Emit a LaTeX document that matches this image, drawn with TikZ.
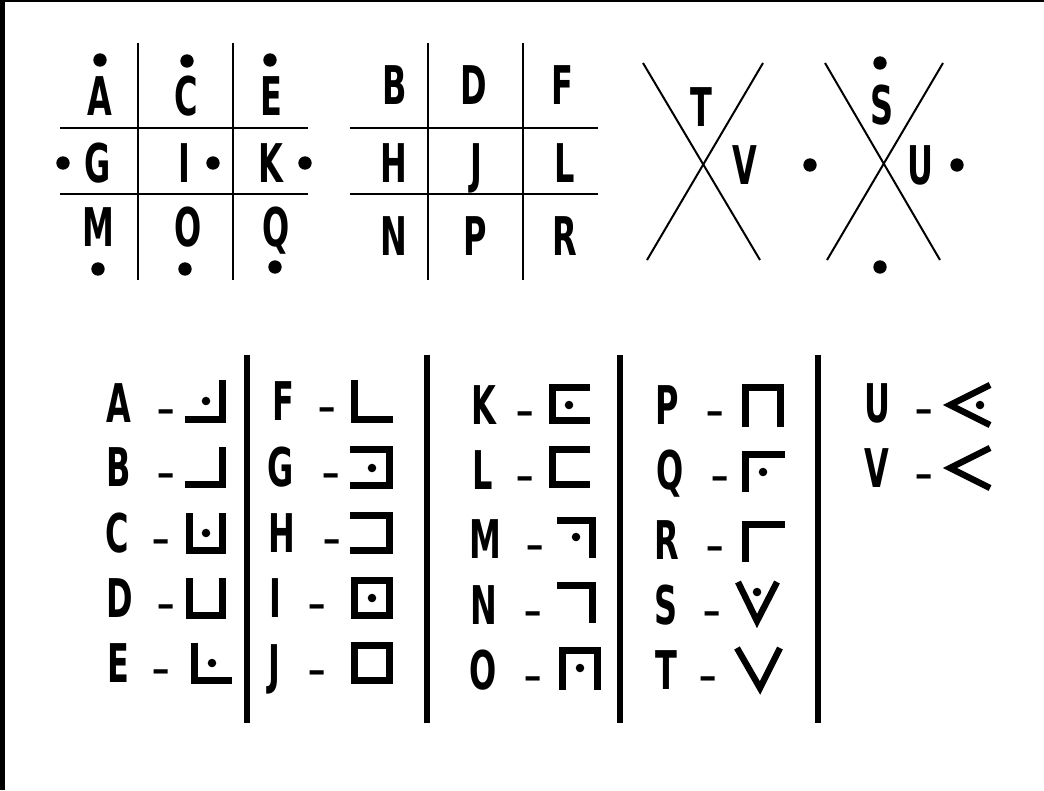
\documentclass[tikz,border=0pt]{standalone}
\usepackage{fontspec}
\newfontfamily\pixfont{DejaVu Sans}[FakeStretch=0.6]
\newfontfamily\dashfont{DejaVu Sans}
\usetikzlibrary{positioning}
\tikzset{
  lt/.style={font=\pixfont\bfseries\fontsize{40}{40}\selectfont, inner sep=0pt, text height=29.2pt, text depth=0pt},
  dsh/.style={font=\dashfont\fontsize{40}{40}\selectfont, inner sep=0pt, text height=29.2pt, text depth=0pt, yshift=-3pt},
  gridline/.style={line width=1.9pt},
  crossline/.style={line width=1.5pt},
  sepline/.style={line width=4.5pt},
  symline/.style={line width=4.8pt},
  bigdot/.style={radius=5pt},
  smalldot/.style={radius=3.2pt},
}
\begin{document}
\begin{tikzpicture}[x=0.75pt,y=0.75pt,yscale=-1,xscale=1]
\useasboundingbox (0,0) rectangle (1044,790);
\fill[white] (0,0) rectangle (1044,790);
% frame edges
\fill (0,0) rectangle (5,790);
\fill (0,0) rectangle (1044,2);

%Straight Lines : first grid
\draw[gridline] (138,43) -- (138,280);
\draw[gridline] (233,43) -- (233,280);
\draw[gridline] (60,128) -- (308,128);
\draw[gridline] (60,194) -- (308,194);

%Straight Lines : second grid
\draw[gridline] (428,43) -- (428,280);
\draw[gridline] (523,43) -- (523,280);
\draw[gridline] (350,128) -- (598,128);
\draw[gridline] (350,194) -- (598,194);

%Straight Lines : the two crosses
\draw[crossline] (643,63) -- (760,260);
\draw[crossline] (763,63) -- (647,260);
\draw[crossline] (825,63) -- (940,260);
\draw[crossline] (943,63) -- (827,260);

% Text Node : first grid
\node[lt] (gA) at (100,96) {A};
\node[lt] (gC) at (186,96) {C};
\node[lt] (gE) at (271,96) {E};
\node[lt] (gG) at (98,163) {G};
\node[lt] (gI) at (184,163) {I};
\node[lt] (gK) at (271,163) {K};
\node[lt] (gM) at (98,227) {M};
\node[lt] (gO) at (188,227) {O};
\node[lt] (gQ) at (276,227) {Q};
% dots
\fill (100,60) circle [bigdot];
\fill (187,61) circle [bigdot];
\fill (270,60) circle [bigdot];
\fill (63,163) circle [bigdot];
\fill (213,163) circle [bigdot];
\fill (305,163) circle [bigdot];
\fill (98,269) circle [bigdot];
\fill (185,269) circle [bigdot];
\fill (275,267) circle [bigdot];

% Text Node : second grid
\node[lt] (gB) at (395,85) {B};
\node[lt] (gD) at (474,85) {D};
\node[lt] (gF) at (562,85) {F};
\node[lt] (gH) at (394,163) {H};
\node[lt] (gJ) at (476,163) {J};
\node[lt] (gL) at (565,163) {L};
\node[lt] (gN) at (394,236) {N};
\node[lt] (gP) at (475,236) {P};
\node[lt] (gR) at (565,236) {R};

% Text Node : crosses
\node[lt] (gT) at (701,107) {T};
\node[lt] (gV) at (745,165) {V};
\node[lt] (gS) at (882,105) {S};
\node[lt] (gU) at (920,165) {U};
\fill (810,165) circle [bigdot];
\fill (880,63) circle [bigdot];
\fill (957,165) circle [bigdot];
\fill (880,267) circle [bigdot];

%Straight Lines : separators of the key
\draw[sepline] (247,355) -- (247,723);
\draw[sepline] (427,355) -- (427,723);
\draw[sepline] (620,355) -- (620,723);
\draw[sepline] (818,355) -- (818,723);

% Text Node : key, first column
\node[lt] (kA) at (119,403.5) {A};
\node[dsh] (dA) at (166,403.5) {-};
\node[lt] (kB) at (119,467) {B};
\node[dsh] (dB) at (166,467) {-};
\node[lt] (kC) at (117,533) {C};
\node[dsh] (dC) at (161,533) {-};
\node[lt] (kD) at (120,598) {D};
\node[dsh] (dD) at (166,598) {-};
\node[lt] (kE) at (118,663) {E};
\node[dsh] (dE) at (161,663) {-};
\draw[symline] (185,419.5) -- (222.5,419.5) -- (222.5,380);
\fill (206,401) circle [smalldot];
\draw[symline] (185,484.5) -- (222.5,484.5) -- (222.5,447);
\draw[symline] (189.5,513) -- (189.5,550.5) -- (222.5,550.5) -- (222.5,513);
\fill (206,533) circle [smalldot];
\draw[symline] (189.5,578) -- (189.5,615.5) -- (222.5,615.5) -- (222.5,578);
\draw[symline] (194.5,643) -- (194.5,680.5) -- (232,680.5);
\fill (212,663) circle [smalldot];

% Text Node : key, second column
\node[lt] (kF) at (283,401) {F};
\node[dsh] (dF) at (327,401) {-};
\node[lt] (kG) at (281,467) {G};
\node[dsh] (dG) at (331,467) {-};
\node[lt] (kH) at (282,533) {H};
\node[dsh] (dH) at (332,533) {-};
\node[lt] (kI) at (275,598) {I};
\node[dsh] (dI) at (317,598) {-};
\node[lt] (kJ) at (274,664) {J};
\node[dsh] (dJ) at (317,664) {-};
\draw[symline] (354.5,380) -- (354.5,419.5) -- (393,419.5);
\draw[symline] (350,449.5) -- (389.5,449.5) -- (389.5,485.5) -- (350,485.5);
\fill (372,468) circle [smalldot];
\draw[symline] (350,515.5) -- (389.5,515.5) -- (389.5,550.5) -- (350,550.5);
\draw[symline] (354.5,580.5) rectangle (389.5,615.5);
\fill (372,598) circle [smalldot];
\draw[symline] (354.5,645.5) rectangle (389.5,680.5);

% Text Node : key, third column
\node[lt] (kK) at (484,405) {K};
\node[dsh] (dK) at (525,405) {-};
\node[lt] (kL) at (483,470) {L};
\node[dsh] (dL) at (525,470) {-};
\node[lt] (kM) at (485,539) {M};
\node[dsh] (dM) at (535,539) {-};
\node[lt] (kN) at (484,605) {N};
\node[dsh] (dN) at (533,605) {-};
\node[lt] (kO) at (483,670) {O};
\node[dsh] (dO) at (533,670) {-};
\draw[symline] (590,387.5) -- (552.5,387.5) -- (552.5,420.5) -- (590,420.5);
\fill (569,405) circle [smalldot];
\draw[symline] (590,449.5) -- (552.5,449.5) -- (552.5,484.5) -- (590,484.5);
\draw[symline] (557,520.5) -- (592.5,520.5) -- (592.5,558);
\fill (576,537) circle [smalldot];
\draw[symline] (557,585.5) -- (592.5,585.5) -- (592.5,623);
\draw[symline] (562.5,690) -- (562.5,650.5) -- (597.5,650.5) -- (597.5,690);
\fill (580,668) circle [smalldot];

% Text Node : key, fourth column
\node[lt] (kP) at (667,405) {P};
\node[dsh] (dP) at (715,405) {-};
\node[lt] (kQ) at (670,470) {Q};
\node[dsh] (dQ) at (720,470) {-};
\node[lt] (kR) at (667,540) {R};
\node[dsh] (dR) at (715,540) {-};
\node[lt] (kS) at (666,605) {S};
\node[dsh] (dS) at (712,605) {-};
\node[lt] (kT) at (666,670) {T};
\node[dsh] (dT) at (708,670) {-};
\draw[symline] (745.5,427) -- (745.5,387.5) -- (780.5,387.5) -- (780.5,427);
\draw[symline] (745.5,492) -- (745.5,454.5) -- (785,454.5);
\fill (763,472) circle [smalldot];
\draw[symline] (745.5,562) -- (745.5,524.5) -- (785,524.5);
\draw[symline] (738,582) -- (757,621) -- (777,582);
\fill (757,592) circle [smalldot];
\draw[symline] (737,648) -- (760,688) -- (780,648);

% Text Node : key, fifth column
\node[lt] (kU) at (877,403.5) {U};
\node[dsh] (dU) at (924,403.5) {-};
\node[lt] (kV) at (877,468) {V};
\node[dsh] (dV) at (924,468) {-};
\draw[symline] (990,385) -- (950,405) -- (990,425);
\fill (980,405) circle [smalldot];
\draw[symline] (990,448) -- (950,468) -- (990,488);

\end{tikzpicture}
\end{document}
